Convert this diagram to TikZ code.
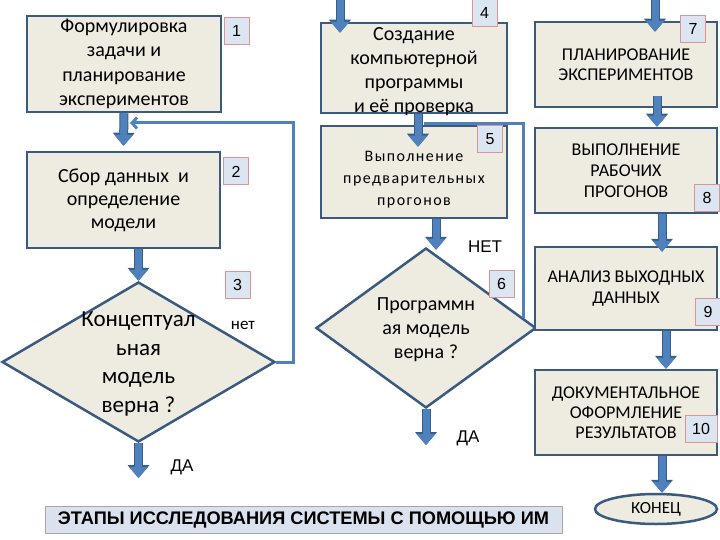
\documentclass[tikz,border=0pt]{standalone}
\usepackage{fontspec}
\setmainfont{Carlito}
\newfontfamily\arialfont{Liberation Sans}
\usetikzlibrary{shapes.geometric,arrows.meta,calc}

\definecolor{boxfill}{HTML}{EEECE1}
\definecolor{boxline}{HTML}{3A5A80}
\definecolor{numfill}{HTML}{DCE6F2}
\definecolor{numline}{HTML}{D99694}
\definecolor{arrowblue}{HTML}{4F81BD}
\definecolor{arrowline}{HTML}{385D8A}
\definecolor{barfill}{HTML}{D9E2EE}

\begin{document}
\begin{tikzpicture}[x=1pt,y=-1pt,
   stage/.style={draw=boxline,line width=2.5pt,fill=boxfill,align=center,inner sep=0pt},
   check/.style={diamond,draw=boxline,line width=2.5pt,fill=boxfill,inner sep=0pt},
   numbox/.style={draw=numline,line width=1pt,fill=numfill,inner sep=0pt,
      minimum width=25pt,minimum height=27pt,font=\arialfont\fontsize{16}{16}\selectfont},
   flow/.style={draw=arrowblue,line width=7pt,
      -{Triangle[width=19pt,length=11pt,line width=0pt]},
      preaction={draw=arrowline,line width=9pt,-{Triangle[width=22pt,length=13pt,line width=0pt]}}},
   back/.style={draw=arrowblue,line width=3pt},
   answer/.style={font=\arialfont\fontsize{17}{17}\selectfont}]
   \useasboundingbox (0,0) rectangle (720,540);

   % left column
   \node[stage,minimum width=194pt,minimum height=96pt,font=\fontsize{20}{24.5}\selectfont] (b1) at (124,64)
      {Формулировка\\задачи и\\планирование\\экспериментов};
   \node[stage,minimum width=193pt,minimum height=96pt,font=\fontsize{20}{23}\selectfont] (b2) at (123.5,200)
      {Сбор данных \ и\\определение\\модели};
   \node[check,minimum width=273pt,minimum height=160pt,
      label={[align=center,font=\fontsize{23}{28.5}\selectfont,yshift=-2pt]center:{Концептуал\\ьная\\модель\\верна ?}}] (d3) at (138.5,362) {};

   % middle column
   \node[stage,minimum width=186pt,minimum height=90pt,
      label={[align=center,font=\fontsize{20}{24}\selectfont,yshift=-4pt]center:{Создание\\компьютерной\\программы\\и её проверка}}] (b4) at (414,68) {};
   \node[stage,minimum width=186pt,minimum height=92pt,
      label={[align=center,font=\fontsize{16}{22}\selectfont\addfontfeatures{LetterSpace=9},yshift=-8pt]center:{Выполнение\\предварительных\\прогонов}}] (b5) at (414,172) {};
   \node[check,minimum width=220pt,minimum height=160pt,
      label={[align=center,font=\fontsize{20}{24}\selectfont,yshift=-2pt]center:{Программн\\ая модель\\верна ?}}] (d6) at (426,328) {};

   % right column
   \node[stage,minimum width=182pt,minimum height=85pt,font=\fontsize{18}{20}\selectfont] (b7) at (626,64.5)
      {ПЛАНИРОВАНИЕ\\ЭКСПЕРИМЕНТОВ};
   \node[stage,minimum width=182pt,minimum height=85pt,font=\fontsize{18}{21}\selectfont] (b8) at (626,170.5)
      {ВЫПОЛНЕНИЕ\\РАБОЧИХ\\ПРОГОНОВ};
   \node[stage,minimum width=182pt,minimum height=83pt,font=\fontsize{18}{21}\selectfont] (b9) at (626,288.5)
      {АНАЛИЗ ВЫХОДНЫХ\\ДАННЫХ};
   \node[stage,minimum width=182pt,minimum height=85pt,font=\fontsize{18}{20}\selectfont] (b10) at (626,412.5)
      {ДОКУМЕНТАЛЬНОЕ\\ОФОРМЛЕНИЕ\\РЕЗУЛЬТАТОВ};
   \node[ellipse,draw=boxline,line width=2.5pt,fill=boxfill,inner sep=0pt,
      minimum width=122pt,minimum height=30pt,font=\fontsize{17}{17}\selectfont] (end) at (656,509) {КОНЕЦ};

   % numbers
   \node[numbox] (n1) at (236.5,31) {1};
   \node[numbox] (n2) at (236,171.5) {2};
   \node[numbox] (n3) at (237.5,285) {3};
   \node[numbox] (n4) at (484.5,13) {4};
   \node[numbox] (n5) at (490,139) {5};
   \node[numbox] (n6) at (501.5,284) {6};
   \node[numbox] (n7) at (693,29) {7};
   \node[numbox] (n8) at (707,198) {8};
   \node[numbox] (n9) at (708,312) {9};
   \node[numbox,minimum width=32pt] (n10) at (701,428.5) {10};

   % answers
   \node[font=\fontsize{17}{17}\selectfont] (no3) at (243,325) {нет};
   \node[answer] (yes3) at (182,467) {ДА};
   \node[answer] (no6) at (485,247) {НЕТ};
   \node[answer] (yes6) at (468,438) {ДА};

   % footer
   \node[draw=gray!70,fill=barfill,minimum width=517pt,minimum height=27pt,inner sep=0pt,
      font=\arialfont\bfseries\fontsize{18.2}{18.2}\selectfont] (title) at (303.5,520)
      {ЭТАПЫ ИССЛЕДОВАНИЯ СИСТЕМЫ С ПОМОЩЬЮ ИМ};

   % return lines
   \coordinate (c1) at (293,123);
   \coordinate (j1) at (130,123);
   \draw[back,-{Straight Barb[length=5pt,width=11pt]}] (d3.east) -| (c1) -- (j1);
   \coordinate (j2) at (424,124);
   \coordinate (e6) at ($(d6.north)!0.88!(d6.east)$);
   \draw[back] (e6) -- (e6 |- j2) -- (j2);

   % arrows
   \coordinate (in4) at (340,0);
   \coordinate (in7) at (655,0);
   \coordinate (out3) at (138.5,478);
   \coordinate (out6) at (426,445);
   \draw[flow] (b1.south) -- ([yshift=5pt]b2.north);
   \draw[flow] (b2.south -| d3.north) -- (d3.north);
   \draw[flow] (d3.south) -- (out3);
   \draw[flow] (in4) -- ([yshift=-11pt]in4 |- b4.north);
   \draw[flow] ([xshift=4pt]b4.south) -- ([xshift=4pt,yshift=-22pt]b5.north);
   \draw[flow] (b5.south -| 436,0) -- ([yshift=-3pt]d6.north -| 436,0);
   \draw[flow] (d6.south) -- (out6);
   \draw[flow] (in7) -- ([yshift=-11pt]in7 |- b7.north);
   \draw[flow] ([xshift=31pt,yshift=12pt]b7.south) -- ([xshift=31pt]b8.north);
   \draw[flow] ([xshift=36pt]b8.south) -- ([xshift=36pt,yshift=-6pt]b9.north);
   \draw[flow] ([xshift=40pt]b9.south) -- ([xshift=40pt]b10.north);
   \draw[flow] ([xshift=36pt]b10.south) -- ([xshift=6pt]end.north);
\end{tikzpicture}
\end{document}
